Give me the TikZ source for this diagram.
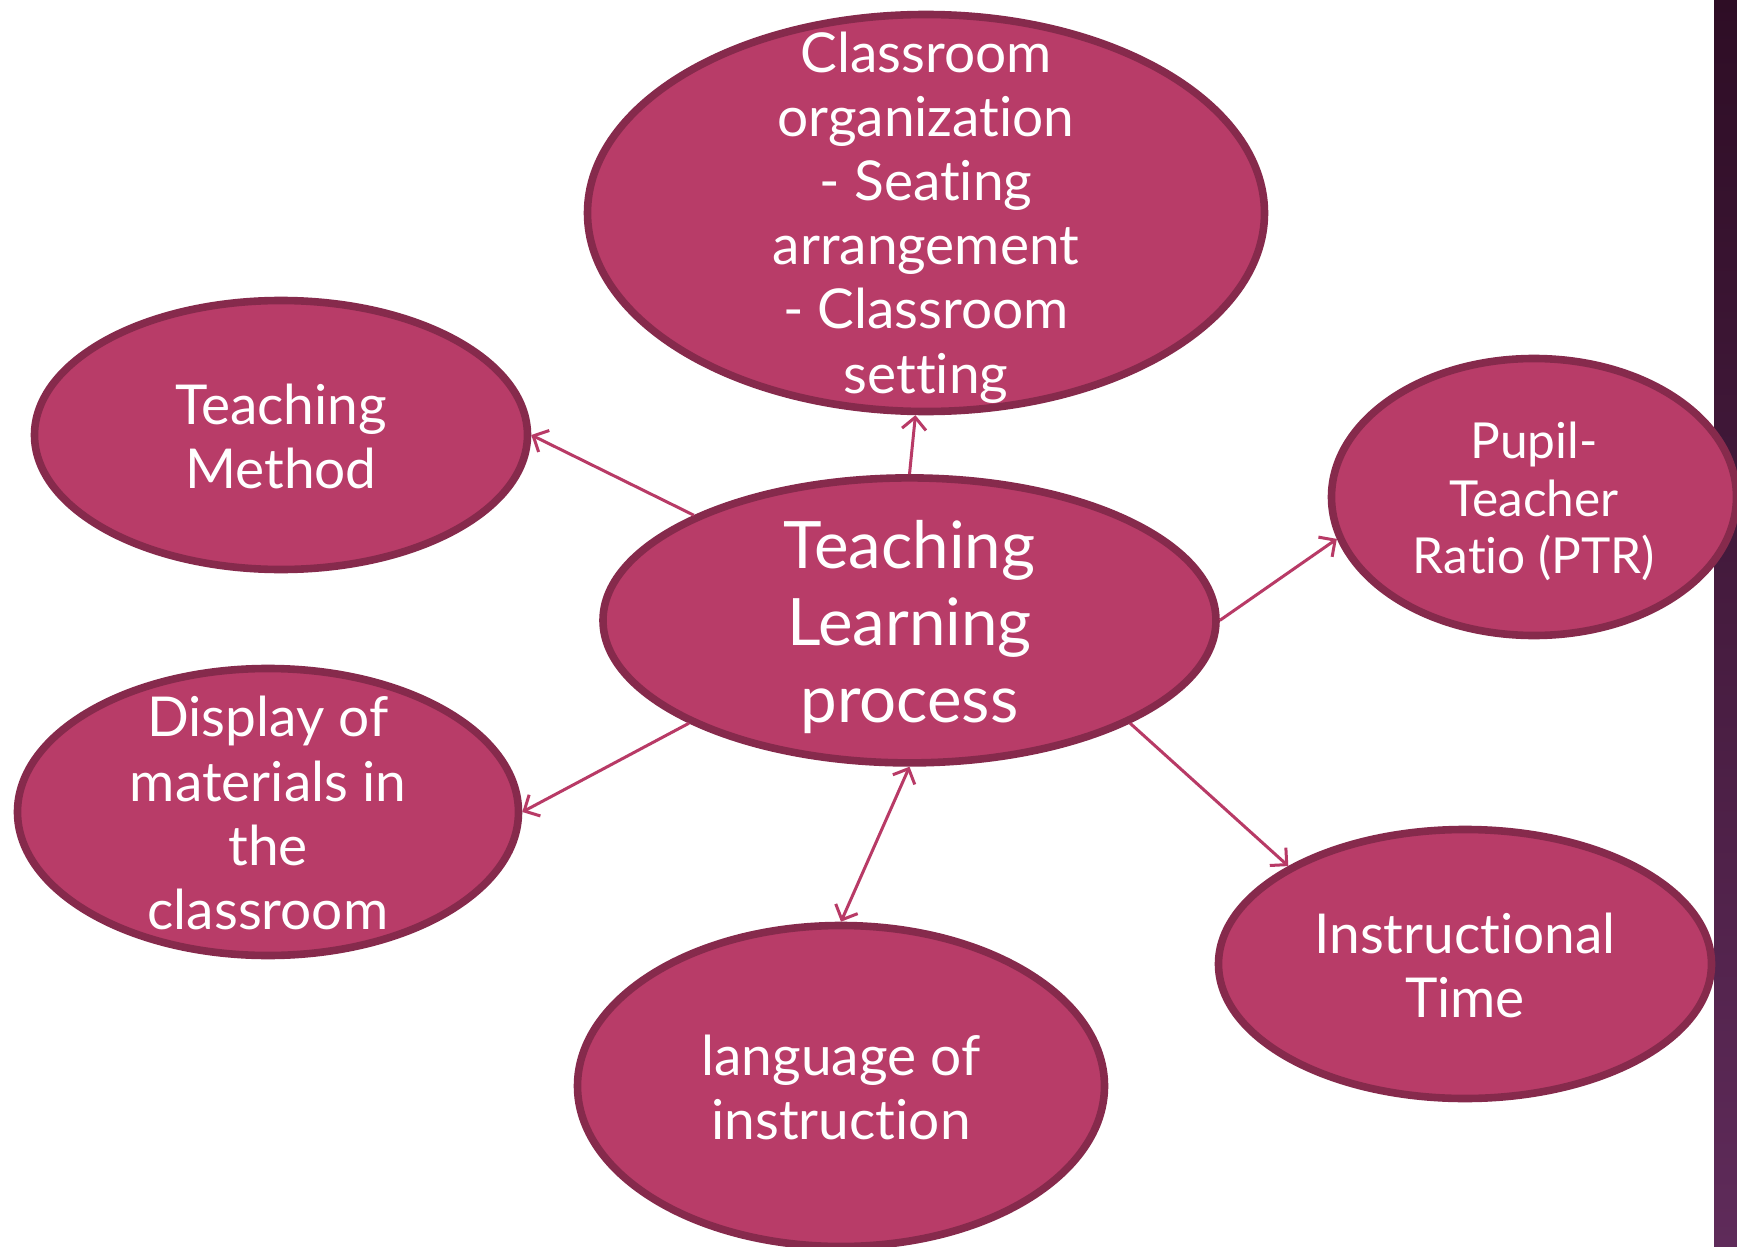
\documentclass[tikz,border=0pt]{standalone}
\usepackage{fontspec}
\setmainfont{Lato}[Ligatures={NoCommon,NoRequired}]
\usetikzlibrary{shapes.geometric,arrows.meta}
\definecolor{ellfill}{HTML}{B83C68}
\definecolor{elldraw}{HTML}{862A4C}
\definecolor{arrcol}{HTML}{B83A66}
\definecolor{stripTop}{HTML}{2E0D25}
\definecolor{stripBot}{HTML}{5F2B5A}
\tikzset{
  ell/.style={ellipse, fill=ellfill, draw=elldraw, line width=3.8pt, inner sep=0pt},
  txt/.style={text=white, align=center, yshift=-0.6pt, font=\fontsize{27.5}{32.1}\selectfont},
  bigtxt/.style={text=white, align=center, yshift=-3.5pt, font=\fontsize{32.7}{38.5}\selectfont},
  smalltxt/.style={text=white, align=center, yshift=-2.2pt, font=\fontsize{24.8}{28.8}\selectfont},
  arr/.style={draw=arrcol, line width=1.5pt, -{Straight Barb[length=6pt,width=12pt]}},
  arrboth/.style={draw=arrcol, line width=1.5pt, {Straight Barb[length=6pt,width=12pt]}-{Straight Barb[length=6pt,width=12pt]}}
}
\begin{document}
\begin{tikzpicture}[x=0.5pt,y=-0.5pt]
\useasboundingbox (0,0) rectangle (1737,1247);
\fill[white] (0,0) rectangle (1737,1247);
\shade[top color=stripTop, bottom color=stripBot] (1714,0) rectangle (1737,1247);

\node[ell, minimum width=338.5pt, minimum height=198.5pt,
  label={[txt,yshift=-1.6pt]center:{Classroom\\organization\\- Seating\\arrangement\\- Classroom\\setting}}] (top) at (926,213) {};
\node[ell, minimum width=246.5pt, minimum height=134.5pt,
  label={[txt]center:{Teaching\\Method}}] (tm) at (281,435) {};
\node[ell, minimum width=306.5pt, minimum height=142.5pt,
  label={[bigtxt]center:{Teaching\\Learning\\process}}] (c) at (909.5,620.4) {};
\node[ell, minimum width=202.5pt, minimum height=138.5pt,
  label={[smalltxt]center:{Pupil-\\Teacher\\Ratio (PTR)}}] (ptr) at (1534,497) {};
\node[ell, minimum width=250.5pt, minimum height=143.5pt,
  label={[txt]center:{Display of\\materials in\\the\\classroom}}] (disp) at (268,812) {};
\node[ell, minimum width=246.5pt, minimum height=134.5pt,
  label={[txt]center:{Instructional\\Time}}] (ins) at (1465,964) {};
\node[ell, minimum width=263.5pt, minimum height=160.5pt,
  label={[txt]center:{language of\\instruction}}] (lang) at (841,1086) {};

\draw[arr] (c.90) -- (top.267);
\draw[arr] (c.154.6) -- (tm.east);
\draw[arr] (c.205.4) -- (disp.east);
\draw[arr] (c.east) -- (ptr.192.4);
\draw[arr] (c.335) -- (ins.151);
\draw[arrboth] (c.270) -- (lang.north);
\end{tikzpicture}
\end{document}
